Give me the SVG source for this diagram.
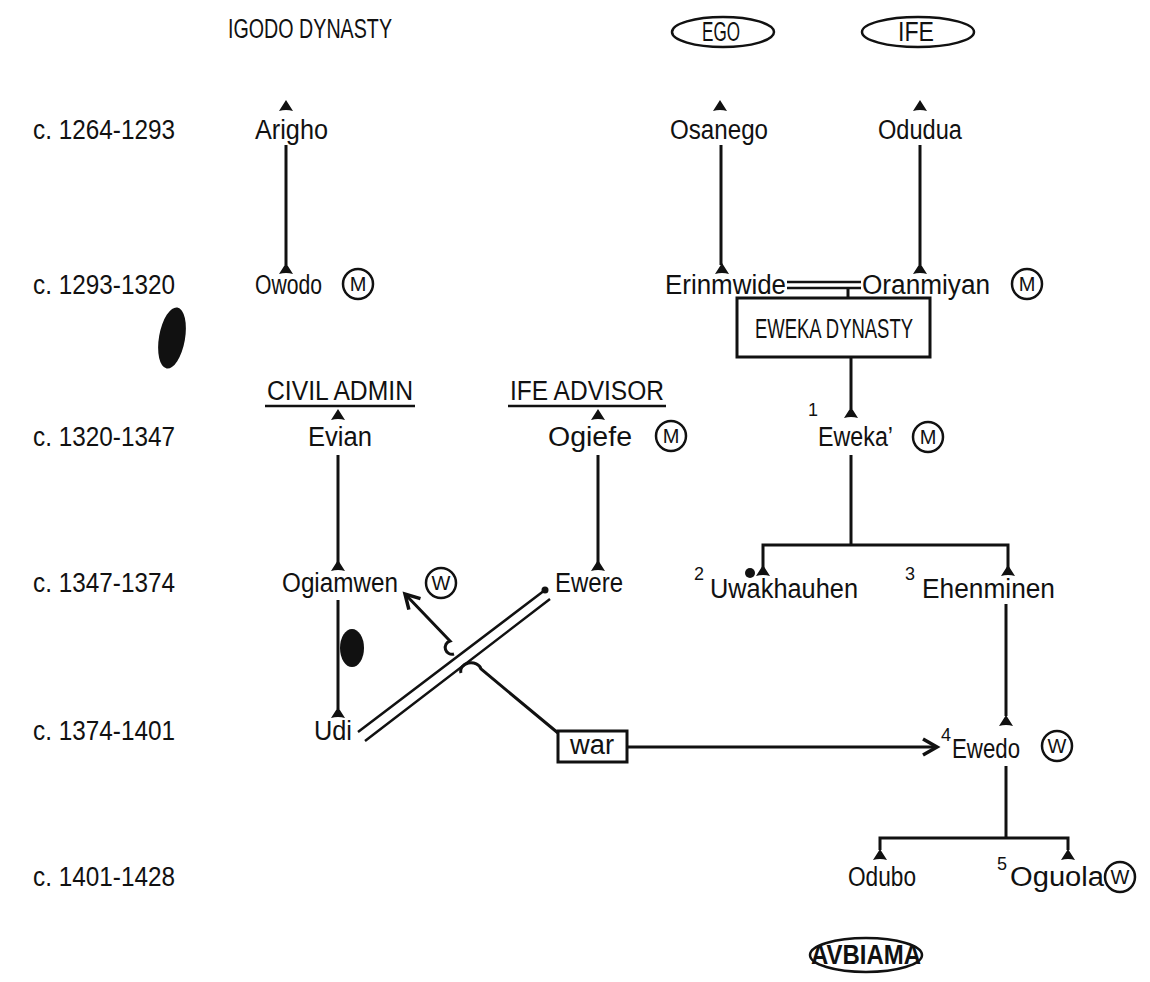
<svg xmlns="http://www.w3.org/2000/svg" width="1150" height="982" viewBox="0 0 1150 982">
<style>
text{font-family:"Liberation Sans",Arial,sans-serif;font-size:27px;fill:#111}
.sup{font-size:18px}
.mid{text-anchor:middle}
.ln{stroke:#111;stroke-width:3;fill:none}
.dbl{stroke:#111;stroke-width:2.5;fill:none}
.circ{fill:none;stroke:#111;stroke-width:2.5}
.ct{font-size:20px;text-anchor:middle}
.box{fill:#fff;stroke:#111;stroke-width:3}
</style>
<defs>
<path id="tri" d="M0,-6 L7,5 Q0,3 -7,5 Z" fill="#111"/>
<marker id="arr" markerUnits="userSpaceOnUse" markerWidth="22" markerHeight="22" refX="17" refY="11" orient="auto"><path d="M3,3 L17,11 L3,19" fill="none" stroke="#111" stroke-width="3.5"/></marker>
</defs>
<rect width="1150" height="982" fill="#fff"/>

<g id="scan-marks" fill="#111">
<ellipse cx="172" cy="338" rx="13" ry="31" transform="rotate(10 172 338)"/>
<ellipse cx="352" cy="648" rx="12" ry="19"/>
<circle cx="750" cy="573" r="5"/>
</g>

<g id="dates">
<text x="33" y="139" textLength="142" lengthAdjust="spacingAndGlyphs">c. 1264-1293</text>
<text x="33" y="294" textLength="142" lengthAdjust="spacingAndGlyphs">c. 1293-1320</text>
<text x="33" y="446" textLength="142" lengthAdjust="spacingAndGlyphs">c. 1320-1347</text>
<text x="33" y="592" textLength="142" lengthAdjust="spacingAndGlyphs">c. 1347-1374</text>
<text x="33" y="740" textLength="142" lengthAdjust="spacingAndGlyphs">c. 1374-1401</text>
<text x="33" y="886" textLength="142" lengthAdjust="spacingAndGlyphs">c. 1401-1428</text>
</g>

<g id="connectors">
<path class="ln" d="M286 145 V265"/>
<path class="ln" d="M721 145 V265"/>
<path class="ln" d="M920 145 V265"/>
<path class="dbl" d="M787 282 H861 M787 288 H861"/>
<path class="ln" d="M848 288 V298"/>
<path class="ln" d="M851 357 V409"/>
<path class="ln" d="M338 455 V564"/>
<path class="ln" d="M598 455 V564"/>
<path class="ln" d="M851 455 V545"/>
<path class="ln" d="M763 568 V545 H1008 V568"/>
<path class="ln" d="M1006 604 V716"/>
<path class="ln" d="M1006 766 V838"/>
<path class="ln" d="M880 850 V838 H1068 V850"/>
<path class="ln" d="M338 600 V709"/>
<path class="dbl" d="M358 732 L545 590 M365 741 L550 599"/>
<circle cx="545" cy="590" r="3.5" fill="#111"/>
<path class="ln" d="M454 654 A6 6 0 0 1 450 641 L405 594" marker-end="url(#arr)"/>
<path class="ln" d="M558 733 L481 669 A10 8 0 0 0 461 673"/>
<path class="ln" d="M627 747 H937" marker-end="url(#arr)"/>
</g>

<g id="igodo-title"><text x="228" y="38" textLength="164" lengthAdjust="spacingAndGlyphs">IGODO DYNASTY</text></g>
<g id="ego"><ellipse class="circ" cx="723" cy="32" rx="51" ry="15"/><text class="mid" x="721" y="41" textLength="38" lengthAdjust="spacingAndGlyphs">EGO</text></g>
<g id="ife"><ellipse class="circ" cx="918" cy="32" rx="56" ry="15"/><text class="mid" x="916" y="41" textLength="36" lengthAdjust="spacingAndGlyphs">IFE</text></g>

<g id="arigho"><use href="#tri" x="286" y="106"/><text x="255" y="139" textLength="73" lengthAdjust="spacingAndGlyphs">Arigho</text></g>
<g id="owodo"><use href="#tri" x="286" y="269"/><text x="255" y="294" textLength="67" lengthAdjust="spacingAndGlyphs">Owodo</text><circle class="circ" cx="358" cy="284" r="15"/><text class="ct" x="358" y="291">M</text></g>
<g id="osanego"><use href="#tri" x="720" y="106"/><text x="670" y="139" textLength="98" lengthAdjust="spacingAndGlyphs">Osanego</text></g>
<g id="odudua"><use href="#tri" x="920" y="106"/><text x="878" y="139" textLength="84" lengthAdjust="spacingAndGlyphs">Odudua</text></g>
<g id="erinmwide"><use href="#tri" x="722" y="269"/><text x="665" y="294" textLength="121" lengthAdjust="spacingAndGlyphs">Erinmwide</text></g>
<g id="oranmiyan"><use href="#tri" x="920" y="269"/><text x="862" y="294" textLength="128" lengthAdjust="spacingAndGlyphs">Oranmiyan</text><circle class="circ" cx="1027" cy="284" r="15"/><text class="ct" x="1027" y="291">M</text></g>
<g id="eweka-dynasty"><rect class="box" x="737" y="298" width="193" height="59"/><text class="mid" x="834" y="338" textLength="158" lengthAdjust="spacingAndGlyphs">EWEKA DYNASTY</text></g>

<g id="civil-admin"><text x="267" y="400" textLength="146" lengthAdjust="spacingAndGlyphs">CIVIL ADMIN</text><path class="dbl" d="M265 406 H415"/></g>
<g id="ife-advisor"><text x="510" y="400" textLength="154" lengthAdjust="spacingAndGlyphs">IFE ADVISOR</text><path class="dbl" d="M508 406 H666"/></g>

<g id="evian"><use href="#tri" x="338" y="415"/><text x="308" y="446" textLength="64" lengthAdjust="spacingAndGlyphs">Evian</text></g>
<g id="ogiefe"><use href="#tri" x="598" y="415"/><text x="548" y="446" textLength="84" lengthAdjust="spacingAndGlyphs">Ogiefe</text><circle class="circ" cx="671" cy="436" r="15"/><text class="ct" x="671" y="443">M</text></g>
<g id="eweka"><use href="#tri" x="851" y="413"/><text class="sup" x="808" y="416">1</text><text x="818" y="446" textLength="75" lengthAdjust="spacingAndGlyphs">Eweka’</text><circle class="circ" cx="928" cy="437" r="15"/><text class="ct" x="928" y="444">M</text></g>

<g id="ogiamwen"><use href="#tri" x="338" y="566"/><text x="282" y="592" textLength="116" lengthAdjust="spacingAndGlyphs">Ogiamwen</text><circle class="circ" cx="441" cy="583" r="15"/><text class="ct" x="441" y="590">W</text></g>
<g id="ewere"><use href="#tri" x="598" y="566"/><text x="555" y="592" textLength="68" lengthAdjust="spacingAndGlyphs">Ewere</text></g>
<g id="uwakhauhen"><use href="#tri" x="763" y="571"/><text class="sup" x="694" y="580">2</text><text x="710" y="598" textLength="148" lengthAdjust="spacingAndGlyphs">Uwakhauhen</text></g>
<g id="ehenminen"><use href="#tri" x="1008" y="571"/><text class="sup" x="905" y="580">3</text><text x="922" y="598" textLength="133" lengthAdjust="spacingAndGlyphs">Ehenminen</text></g>

<g id="udi"><use href="#tri" x="338" y="713"/><text x="314" y="740" textLength="38" lengthAdjust="spacingAndGlyphs">Udi</text></g>
<g id="war"><rect class="box" x="558" y="731" width="69" height="31"/><text class="mid" x="592" y="754" textLength="44" lengthAdjust="spacingAndGlyphs">war</text></g>
<g id="ewedo"><use href="#tri" x="1006" y="721"/><text class="sup" x="941" y="741">4</text><text x="952" y="758" textLength="68" lengthAdjust="spacingAndGlyphs">Ewedo</text><circle class="circ" cx="1057" cy="746" r="15"/><text class="ct" x="1057" y="753">W</text></g>

<g id="odubo"><use href="#tri" x="880" y="855"/><text x="848" y="886" textLength="68" lengthAdjust="spacingAndGlyphs">Odubo</text></g>
<g id="oguola"><use href="#tri" x="1068" y="855"/><text class="sup" x="997" y="870">5</text><text x="1010" y="886" textLength="94" lengthAdjust="spacingAndGlyphs">Oguola</text><circle class="circ" cx="1120" cy="877" r="15"/><text class="ct" x="1120" y="884">W</text></g>
<g id="avbiama"><ellipse class="circ" cx="866" cy="955" rx="56" ry="17" stroke-width="3"/><text class="mid" x="866" y="964" font-weight="bold" textLength="110" lengthAdjust="spacingAndGlyphs">AVBIAMA</text></g>
</svg>
